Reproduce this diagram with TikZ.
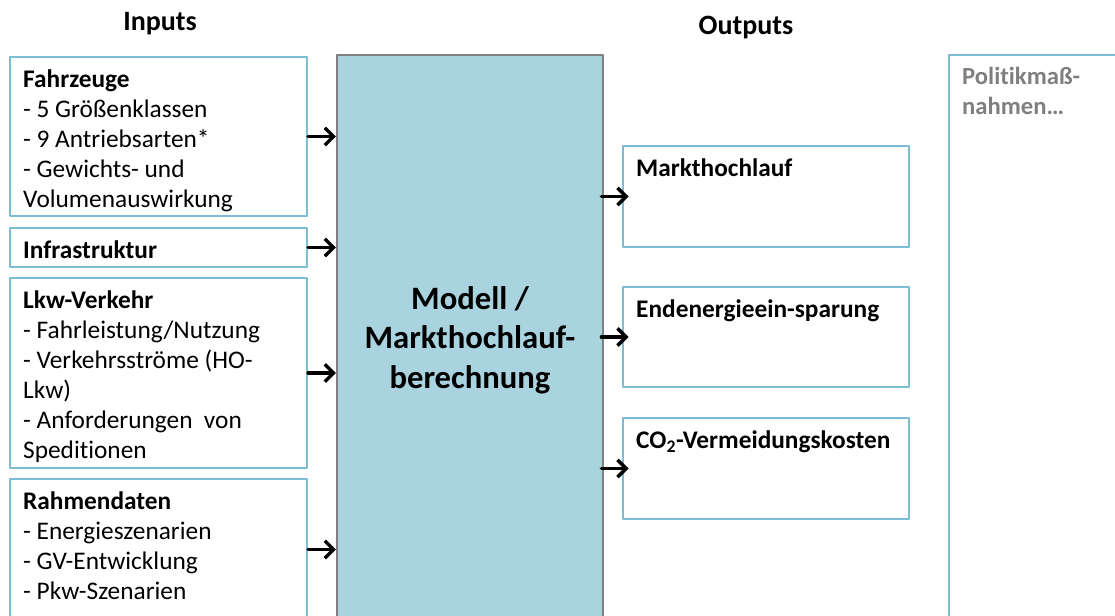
\documentclass[tikz,border=0pt]{standalone}
\usepackage{fontspec}
\setmainfont{Carlito}[Ligatures=NoCommon]
\usetikzlibrary{positioning,arrows.meta,fit}

\definecolor{boxblue}{HTML}{7BBDD4}
\definecolor{modelfill}{HTML}{AAD3E0}
\definecolor{modelgray}{HTML}{808080}
\definecolor{textgray}{HTML}{7F7F7F}

\tikzset{
	inbox/.style={draw=boxblue,line width=1.6pt,inner sep=0pt},
	modelbox/.style={draw=modelgray,fill=modelfill,line width=1.6pt,inner sep=0pt},
	boxtext/.style={anchor=north west,inner sep=0pt,align=left,
		font=\fontsize{19}{22.5}\selectfont},
	head/.style={inner sep=0pt,font=\fontsize{21}{25}\selectfont\bfseries},
	arr/.style={->,line width=2.6pt}
}

\begin{document}
\begin{tikzpicture}[line cap=round,line join=round,>
		={Straight Barb[length=6.5pt,width=13pt]},x=0.75pt,y=-0.75pt]
	\useasboundingbox (0,0) rectangle (1115,615);
	\clip (0,0) rectangle (1115,615);
	% Ueberschriften
	\node[head] (inputs) at (160,24) {Inputs};
	\node[head] (outputs) at (746,28) {Outputs};
	% Modell
	\node[modelbox,fit={(337,55) (603,650)}] (modell) {};
	\node[inner sep=0pt,align=center,font=\fontsize{24.5}{29.5}\selectfont\bfseries]
		(modell-txt) at (470,340) {Modell /\\Markthochlauf-\\berechnung};
	% Inputs
	\node[inbox,fit={(10,57) (307,216)}] (fahrz) {};
	\node[boxtext] (fahrz-txt) at ([xshift=10.5pt,yshift=-10pt]fahrz.north west)
		{\textbf{Fahrzeuge}\\- 5 Größenklassen\\- 9 Antriebsarten*\\- Gewichts- und\\Volumenauswirkung};
	\node[inbox,fit={(10,228) (307,267)}] (infra) {};
	\node[boxtext] (infra-txt) at ([xshift=10.5pt,yshift=-10pt]infra.north west)
		{\textbf{Infrastruktur}};
	\node[inbox,fit={(10,278) (307,468)}] (lkw) {};
	\node[boxtext] (lkw-txt) at ([xshift=10.5pt,yshift=-10pt]lkw.north west)
		{\textbf{Lkw-Verkehr}\\- Fahrleistung/Nutzung\\- Verkehrsströme (HO-\\Lkw)\\- Anforderungen~ von\\Speditionen};
	\node[inbox,fit={(10,479) (307,620)}] (rahmen) {};
	\node[boxtext] (rahmen-txt) at ([xshift=10.5pt,yshift=-10pt]rahmen.north west)
		{\textbf{Rahmendaten}\\- Energieszenarien\\- GV-Entwicklung\\- Pkw-Szenarien};
	% Outputs
	\node[inbox,fit={(623,146) (909,247)}] (markt) {};
	\node[boxtext,font=\fontsize{19}{22.5}\selectfont\bfseries] (markt-txt)
		at ([xshift=10.5pt,yshift=-10pt]markt.north west) {Markthochlauf};
	\node[inbox,fit={(623,287) (909,387)}] (energie) {};
	\node[boxtext,font=\fontsize{19}{22.5}\selectfont\bfseries] (energie-txt)
		at ([xshift=10.5pt,yshift=-10pt]energie.north west) {Endenergieein-sparung};
	\node[inbox,fit={(623,418) (909,519)}] (co2) {};
	\node[boxtext,font=\fontsize{19}{22.5}\selectfont\bfseries] (co2-txt)
		at ([xshift=10.5pt,yshift=-10pt]co2.north west) {CO\textsubscript{2}-Vermeidungskosten};
	% Politik
	\node[inbox,fit={(949,55) (1140,650)}] (politik) {};
	\node[boxtext,text=textgray,font=\fontsize{18.5}{22}\selectfont\bfseries] (politik-txt)
		at ([xshift=10.5pt,yshift=-10pt]politik.north west) {Politikmaß-\\nahmen\dots};
	% Pfeile
	\draw[arr] (fahrz.east) -- (fahrz.east -| modell.west);
	\draw[arr] (infra.east) -- (infra.east -| modell.west);
	\draw[arr] (lkw.east) -- (lkw.east -| modell.west);
	\draw[arr] (rahmen.east) -- (rahmen.east -| modell.west);
	\draw[arr,shorten <=-2pt,shorten >=-5pt] (markt.west -| modell.east) -- (markt.west);
	\draw[arr,shorten <=-2pt,shorten >=-5pt] (energie.west -| modell.east) -- (energie.west);
	\draw[arr,shorten <=-2pt,shorten >=-5pt] (co2.west -| modell.east) -- (co2.west);
\end{tikzpicture}
\end{document}
